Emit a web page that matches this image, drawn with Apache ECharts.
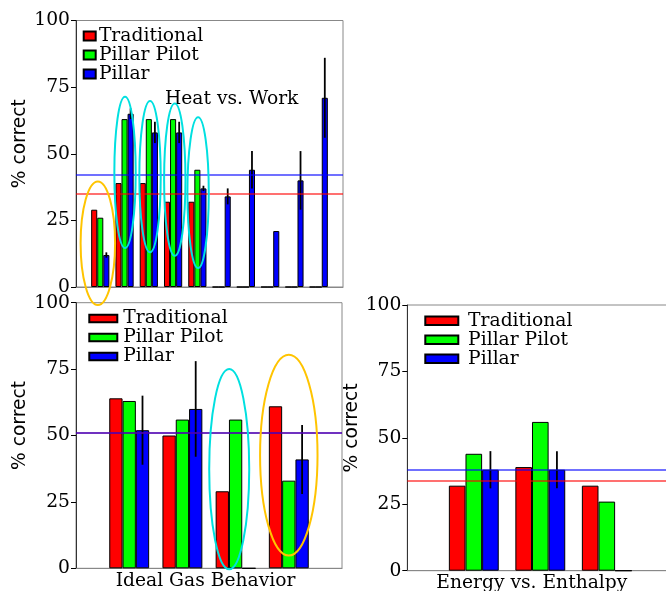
<!DOCTYPE html>
<html><head><meta charset="utf-8">
<script src="https://cdn.jsdelivr.net/npm/echarts@6/dist/echarts.min.js"></script>
<style>html,body{margin:0;padding:0;background:#fff}#c{width:666px;height:591px}</style>
</head><body><div id="c"></div>
<script>
const seriesNames = ['Traditional', 'Pillar Pilot', 'Pillar'];
const seriesColors = ['#ff0000', '#00ff00', '#0000ff'];
const yTicks = [0, 25, 50, 75, 100];

// Panel 1: Heat vs. Work
const heatCategories = ['HW1', 'HW2', 'HW3', 'HW4', 'HW5', 'HW6', 'HW7', 'HW8', 'HW9', 'HW10'];
const heatTraditional = [29, 39, 39, 32, 32, 0, 0, 0, 0, 0];
const heatPilot = [26, 63, 63, 63, 44, 0, 0, 0, 0, 0];
const heatPillar = [12, 65, 58, 58, 37, 34, 44, 21, 40, 71];
const heatPillarErr = [1, 2, 4, 4, 1, 3, 7, 0, 11, 15];
const heatMeanTraditional = 35;
const heatMeanPillar = 42;

// Panel 2: Ideal Gas Behavior
const gasCategories = ['IG1', 'IG2', 'IG3', 'IG4'];
const gasTraditional = [64, 50, 29, 61];
const gasPilot = [63, 56, 56, 33];
const gasPillar = [52, 60, 0, 41];
const gasPillarErr = [13, 18, 0, 13];
const gasMeanTraditional = 51;
const gasMeanPillar = 51;

// Panel 3: Energy vs. Enthalpy
const enCategories = ['EE1', 'EE2', 'EE3'];
const enTraditional = [32, 39, 32];
const enPilot = [44, 56, 26];
const enPillar = [38, 38, 0];
const enPillarErr = [7, 7, 0];
const enMeanTraditional = 34;
const enMeanPillar = 38;

// Annotation ellipses: panel, centre (category position), centre (%), half-width (categories), half-height (%), colour
const ellipsePanel = [0, 0, 0, 0, 0, 1, 1];
const ellipseX = [-0.1, 1.02, 2.05, 3.07, 4.03, 1.88, 3.0];
const ellipseY = [16.4, 43.0, 41.4, 40.3, 35.4, 37.3, 42.6];
const ellipseRX = [0.71, 0.44, 0.44, 0.44, 0.44, 0.376, 0.54];
const ellipseRY = [23.2, 28.4, 28.4, 28.6, 28.3, 37.7, 37.8];
const ellipseColor = ['#ffc400', '#00e0e0', '#00e0e0', '#00e0e0', '#00e0e0', '#00e0e0', '#ffc400'];

const SERIF = 'DejaVu Serif';
const SANS = 'DejaVu Sans';
const FS = 18.7;

const panels = [
  {cats: heatCategories, vals: [heatTraditional, heatPilot, heatPillar], err: heatPillarErr,
   means: [heatMeanTraditional, heatMeanPillar], name: ''},
  {cats: gasCategories, vals: [gasTraditional, gasPilot, gasPillar], err: gasPillarErr,
   means: [gasMeanTraditional, gasMeanPillar], name: 'Ideal Gas Behavior'},
  {cats: enCategories, vals: [enTraditional, enPilot, enPillar], err: enPillarErr,
   means: [enMeanTraditional, enMeanPillar], name: 'Energy vs. Enthalpy'}
];
const grids = [
  {left: 76, top: 20.5, width: 267, height: 266.5},
  {left: 76, top: 302.7, width: 266, height: 265.6},
  {left: 407.3, top: 305, width: 266, height: 265.7}
];
const legendPos = [
  {left: 82.7, top: 26.4, w: 12, h: 9, pad: -1.8},
  {left: 88.3, top: 309, w: 28, h: 7.5, pad: 1},
  {left: 424.3, top: 311.2, w: 33, h: 8.5, pad: 4.8}
];
const xNamePad = [0, 7, 17];

function pad(arr) { return [null].concat(arr, [null]); }

function errorRender(params, api) {
  const x = api.value(0), lo = api.value(1), hi = api.value(2);
  const a = api.coord([x, lo]);
  const b = api.coord([x, hi]);
  const step = api.coord([1, 0])[0] - api.coord([0, 0])[0];
  const off = step * 0.25;
  return {type: 'line', shape: {x1: a[0] + off, y1: a[1], x2: a[0] + off, y2: b[1]},
          style: {stroke: '#000', lineWidth: 1.8}};
}

const option = {
  animation: false,
  backgroundColor: '#fff',
  title: {text: 'Heat vs. Work', left: 165, top: 89.5, padding: 0,
          textStyle: {fontFamily: SERIF, fontSize: FS, fontWeight: 'normal', color: '#000'}},
  grid: grids.map(g => Object.assign({show: true, borderColor: '#888', borderWidth: 1, backgroundColor: 'transparent', outerBoundsMode: 'none', containLabel: false}, g)),
  legend: legendPos.map(l => ({
    data: seriesNames, orient: 'vertical', left: l.left, top: l.top, padding: 0,
    itemWidth: l.w, itemHeight: l.h, itemGap: 0, icon: 'rect', selectedMode: false,
    textStyle: {fontFamily: SERIF, fontSize: FS, color: '#000', lineHeight: 18.8, padding: [0, 0, 0, l.pad]}
  })),
  xAxis: panels.map((p, i) => ({
    type: 'category', gridIndex: i, boundaryGap: false,
    data: [' '].concat(p.cats, ['  ']),
    axisLine: {show: true, lineStyle: {color: '#888', width: 1}},
    axisTick: {show: false}, axisLabel: {show: false}, splitLine: {show: false},
    name: p.name, nameLocation: 'middle', nameGap: 3,
    nameTextStyle: {fontFamily: SERIF, fontSize: FS, color: '#000', verticalAlign: 'top', padding: [0, xNamePad[i], 0, 0]}
  })),
  yAxis: panels.map((p, i) => ({
    type: 'value', gridIndex: i, min: yTicks[0], max: yTicks[yTicks.length - 1], interval: 25,
    axisLine: {show: true, lineStyle: {color: '#333', width: 1}},
    axisTick: {show: true, inside: false, length: 5, lineStyle: {color: '#000'}},
    axisLabel: {fontFamily: SERIF, fontSize: FS, color: '#000', margin: 6},
    splitLine: {show: false},
    name: '% correct', nameLocation: 'middle', nameGap: 46,
    nameTextStyle: {fontFamily: SANS, fontSize: FS, color: '#000', padding: [0, 0, 0, 20]}
  })),
  series: []
};

panels.forEach((p, i) => {
  p.vals.forEach((v, k) => {
    option.series.push({
      type: 'bar', name: seriesNames[k], xAxisIndex: i, yAxisIndex: i,
      data: pad(v), barWidth: '25%', barGap: '0%',
      itemStyle: {color: seriesColors[k], borderColor: '#000', borderWidth: 1},
      emphasis: {disabled: true}
    });
  });
  const errData = [];
  p.err.forEach((e, j) => { if (e > 0) errData.push([j + 1, p.vals[2][j] - e, p.vals[2][j] + e]); });
  option.series.push({
    type: 'custom', name: 'err' + i, xAxisIndex: i, yAxisIndex: i, renderItem: errorRender,
    data: errData, encode: {x: 0, y: [1, 2]}, z: 3, silent: true
  });
  option.series.push({
    type: 'line', name: 'means' + i, xAxisIndex: i, yAxisIndex: i, data: [], z: 4, silent: true,
    markLine: {symbol: ['none', 'none'], silent: true, label: {show: false}, animation: false,
      emphasis: {disabled: true},
      data: [
        {yAxis: p.means[0], lineStyle: {color: 'rgba(255,0,0,0.75)', width: 1.6, type: 'solid'}},
        {yAxis: p.means[1], lineStyle: {color: 'rgba(0,0,255,0.75)', width: 1.6, type: 'solid'}}
      ]}
  });
});

const chart = echarts.init(document.getElementById('c'), null, {renderer: 'canvas'});
chart.setOption(option);

const graphics = ellipseX.map((cx, n) => {
  const g = ellipsePanel[n];
  const p0 = chart.convertToPixel({gridIndex: g}, [0, 0]);
  const p1 = chart.convertToPixel({gridIndex: g}, [1, 100]);
  const sx = p1[0] - p0[0];
  const sy = (p1[1] - p0[1]) / 100;
  return {
    type: 'ellipse', silent: true, z: 100,
    shape: {cx: p0[0] + sx * (cx + 1), cy: p0[1] + sy * ellipseY[n], rx: sx * ellipseRX[n], ry: Math.abs(sy) * ellipseRY[n]},
    style: {fill: 'none', stroke: ellipseColor[n], lineWidth: 2}
  };
});
chart.setOption({graphic: graphics});
</script></body></html>
